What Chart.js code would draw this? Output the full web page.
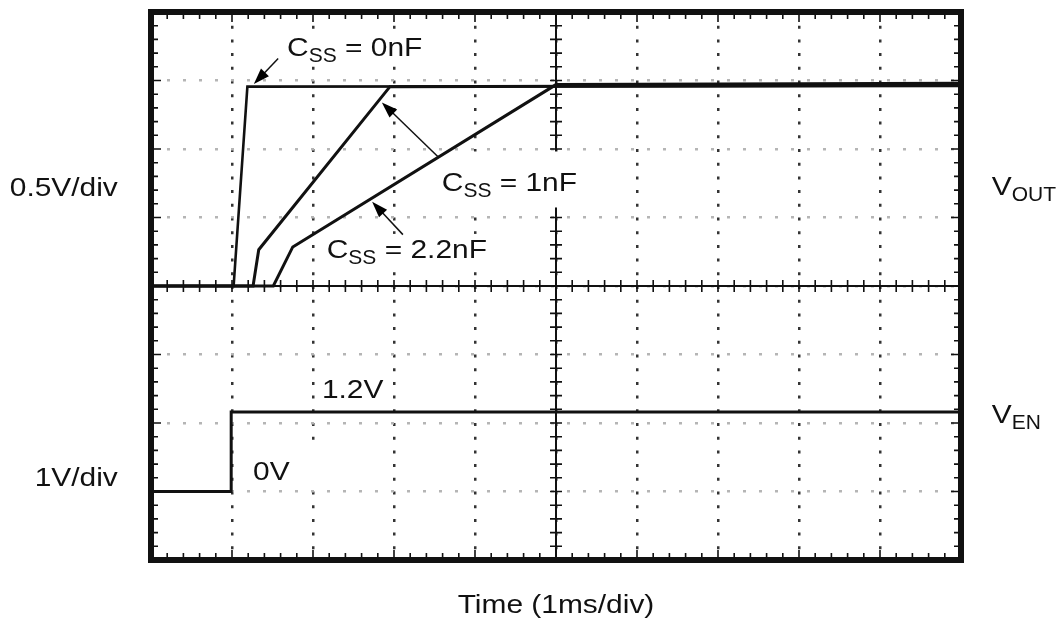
<!DOCTYPE html>
<html>
<head>
<meta charset="utf-8">
<script src="https://cdn.jsdelivr.net/npm/chart.js@4.4.1/dist/chart.umd.min.js"></script>
<style>
  html, body { margin: 0; padding: 0; background: #fff; }
</style>
</head>
<body>
<canvas id="scope" width="1058" height="622"></canvas>
<script>
// time axis: 1 ms per division, 10 divisions
const timeMin = 0, timeMax = 10;
// vertical: 8 divisions, VOUT zero on the centre line (div 4), VEN zero at div 1
const divMin = 0, divMax = 8;

// VOUT traces, volts (0.5 V/div)
const t0nF  = [0, 1.02, 1.19, 10];
const v0nF  = [0, 0, 1.455, 1.46];
const t1nF  = [0, 1.26, 1.33, 2.95, 10];
const v1nF  = [0, 0, 0.265, 1.455, 1.465];
const t22nF = [0, 1.51, 1.75, 5.0, 10];
const v22nF = [0, 0, 0.285, 1.47, 1.48];

// VEN trace, volts (1 V/div)
const tEn = [0, 0.99, 0.99, 10];
const vEn = [0, 0, 1.16, 1.16];

const outZero = 4, outPerDiv = 0.5;
const enZero = 1, enPerDiv = 1;

const toPts = (ts, vs, zero, perDiv) => ts.map((t, i) => ({ x: t, y: zero + vs[i] / perDiv }));

// text labels, placed in (ms, div) units; parts are [text, isSubscript]
// bg = white clearing box padding [top, right, bottom, left] in px
const labels = [
  { parts: [["C"], ["SS", 1], [" = 0nF"]], t: 1.68, d: 7.36, align: "left", bg: [4, 4, 10, 4] },
  { parts: [["C"], ["SS", 1], [" = 1nF"]], t: 3.59, d: 5.38, align: "left", bg: [20, 10, 16, 6] },
  { parts: [["C"], ["SS", 1], [" = 2.2nF"]], t: 2.17, d: 4.41, align: "left", bg: [4, 4, 10, 4] },
  { parts: [["1.2V"]], t: 2.11, d: 2.37, align: "left", bg: [3, 3, 3, 3] },
  { parts: [["0V"]], t: 1.26, d: 1.17, align: "left", bg: [13, 28, 9, 3] },
  { parts: [["0.5V/div"]], t: -0.41, d: 5.32, align: "right" },
  { parts: [["1V/div"]], t: -0.41, d: 1.08, align: "right" },
  { parts: [["V"], ["OUT", 1]], t: 10.38, d: 5.33, align: "left" },
  { parts: [["V"], ["EN", 1]], t: 10.38, d: 2.0, align: "left" },
  { parts: [["Time (1ms/div)"]], t: 5.0, d: -0.78, align: "center" }
];

// pointer arrows: from label to trace
const arrows = [
  { from: [1.57, 7.32], to: [1.27, 6.95] },
  { from: [3.54, 5.89], to: [2.85, 6.68] },
  { from: [3.11, 4.75], to: [2.73, 5.23] }
];

const MAIN_FONT = '26px "Liberation Sans", Arial, sans-serif';
const SUB_FONT = '20px "Liberation Sans", Arial, sans-serif';
const STRETCH = 1.15, SUB_STRETCH = 1.05;
const INK = "#111";

function labelWidth(ctx, parts) {
  let w = 0;
  parts.forEach(p => {
    ctx.font = p[1] ? SUB_FONT : MAIN_FONT;
    w += ctx.measureText(p[0]).width * (p[1] ? SUB_STRETCH : STRETCH);
  });
  return w;
}

function labelStart(ctx, l, x) {
  const w = labelWidth(ctx, l.parts);
  return l.align === "right" ? x - w : l.align === "center" ? x - w / 2 : x;
}

function drawLabel(ctx, x, y, l) {
  let cx = labelStart(ctx, l, x);
  ctx.save();
  ctx.fillStyle = INK;
  ctx.textBaseline = "alphabetic";
  ctx.textAlign = "left";
  l.parts.forEach(p => {
    const sx = p[1] ? SUB_STRETCH : STRETCH;
    ctx.font = p[1] ? SUB_FONT : MAIN_FONT;
    const pw = ctx.measureText(p[0]).width;
    ctx.save();
    ctx.translate(cx, y + (p[1] ? 6 : 0));
    ctx.scale(sx, 1);
    ctx.fillText(p[0], 0, 0);
    ctx.restore();
    cx += pw * sx;
  });
  ctx.restore();
}

function drawArrow(ctx, x1, y1, x2, y2) {
  const ang = Math.atan2(y2 - y1, x2 - x1);
  const len = 16, half = 5.5;
  const c = Math.cos(ang), s = Math.sin(ang);
  ctx.save();
  ctx.strokeStyle = INK;
  ctx.fillStyle = "#000";
  ctx.lineWidth = 1.5;
  ctx.beginPath();
  ctx.moveTo(x1, y1);
  ctx.lineTo(x2 - c * len * 0.8, y2 - s * len * 0.8);
  ctx.stroke();
  ctx.beginPath();
  ctx.moveTo(x2, y2);
  ctx.lineTo(x2 - c * len + s * half, y2 - s * len - c * half);
  ctx.lineTo(x2 - c * len - s * half, y2 - s * len + c * half);
  ctx.closePath();
  ctx.fill();
  ctx.restore();
}

// centre cross-hair with minor ticks, then label clearing boxes (under the traces)
const centreAxes = {
  id: "centreAxes",
  beforeDatasetsDraw(chart) {
    const { ctx, chartArea: a, scales: { x, y } } = chart;
    const cy = y.getPixelForValue(4), cx = x.getPixelForValue(5);
    ctx.save();
    ctx.strokeStyle = "#111";
    ctx.lineWidth = 2;
    ctx.beginPath();
    ctx.moveTo(a.left, cy); ctx.lineTo(a.right, cy);
    ctx.moveTo(cx, a.top); ctx.lineTo(cx, a.bottom);
    ctx.stroke();
    ctx.lineWidth = 1.6;
    ctx.beginPath();
    for (let i = 0; i <= 50; i++) {
      const px = x.getPixelForValue(timeMin + i * 0.2);
      ctx.moveTo(px, cy - 6); ctx.lineTo(px, cy + 6);
    }
    for (let i = 0; i <= 40; i++) {
      const py = y.getPixelForValue(divMin + i * 0.2);
      ctx.moveTo(cx - 6, py); ctx.lineTo(cx + 6, py);
    }
    ctx.stroke();

    ctx.fillStyle = "#fff";
    labels.filter(l => l.bg).forEach(l => {
      const px = x.getPixelForValue(l.t), py = y.getPixelForValue(l.d);
      const left = labelStart(ctx, l, px);
      const w = labelWidth(ctx, l.parts);
      const top = py - 20 - l.bg[0], bottom = py + l.bg[2];
      ctx.fillRect(left - l.bg[3], top, w + l.bg[3] + l.bg[1], bottom - top);
    });
    ctx.restore();
  }
};

// thick frame with inward ticks, labels and arrows
const scopeFrame = {
  id: "scopeFrame",
  afterDraw(chart) {
    const { ctx, chartArea: a, scales: { x, y } } = chart;
    ctx.save();
    ctx.strokeStyle = "#111";
    ctx.lineWidth = 1.6;
    ctx.beginPath();
    for (let i = 0; i <= 50; i++) {
      const px = x.getPixelForValue(timeMin + i * 0.2);
      const len = i % 5 === 0 ? 10 : 7;
      ctx.moveTo(px, a.top); ctx.lineTo(px, a.top + len);
      ctx.moveTo(px, a.bottom); ctx.lineTo(px, a.bottom - len);
    }
    for (let i = 0; i <= 40; i++) {
      const py = y.getPixelForValue(divMin + i * 0.2);
      const len = i % 5 === 0 ? 10 : 7;
      ctx.moveTo(a.left, py); ctx.lineTo(a.left + len, py);
      ctx.moveTo(a.right, py); ctx.lineTo(a.right - len, py);
    }
    ctx.stroke();
    ctx.lineWidth = 6;
    ctx.strokeRect(a.left, a.top, a.right - a.left, a.bottom - a.top);
    ctx.restore();

    arrows.forEach(ar => {
      drawArrow(ctx, x.getPixelForValue(ar.from[0]), y.getPixelForValue(ar.from[1]),
        x.getPixelForValue(ar.to[0]), y.getPixelForValue(ar.to[1]));
    });
    labels.forEach(l => {
      drawLabel(ctx, x.getPixelForValue(l.t), y.getPixelForValue(l.d), l);
    });
  }
};

const trace = (label, pts, width) => ({
  label,
  data: pts,
  borderColor: "#111",
  borderWidth: width,
  pointRadius: 0,
  tension: 0,
  fill: false
});

new Chart(document.getElementById("scope"), {
  type: "line",
  data: {
    datasets: [
      trace("Css = 0nF", toPts(t0nF, v0nF, outZero, outPerDiv), 2.6),
      trace("Css = 1nF", toPts(t1nF, v1nF, outZero, outPerDiv), 3),
      trace("Css = 2.2nF", toPts(t22nF, v22nF, outZero, outPerDiv), 3),
      trace("VEN", toPts(tEn, vEn, enZero, enPerDiv), 3)
    ]
  },
  options: {
    responsive: false,
    animation: false,
    layout: { padding: { left: 151, right: 97, top: 12, bottom: 62 } },
    plugins: {
      legend: { display: false },
      tooltip: { enabled: false }
    },
    scales: {
      x: {
        type: "linear",
        min: timeMin,
        max: timeMax,
        ticks: { display: false, stepSize: 1 },
        grid: { color: "#333", lineWidth: 2.5, drawTicks: false },
        border: { display: false, dash: [3, 10.7] }
      },
      y: {
        type: "linear",
        min: divMin,
        max: divMax,
        ticks: { display: false, stepSize: 1 },
        grid: { color: "#b5b5b5", lineWidth: 2.5, drawTicks: false },
        border: { display: false, dash: [3, 13] }
      }
    }
  },
  plugins: [centreAxes, scopeFrame]
});
</script>
</body>
</html>
